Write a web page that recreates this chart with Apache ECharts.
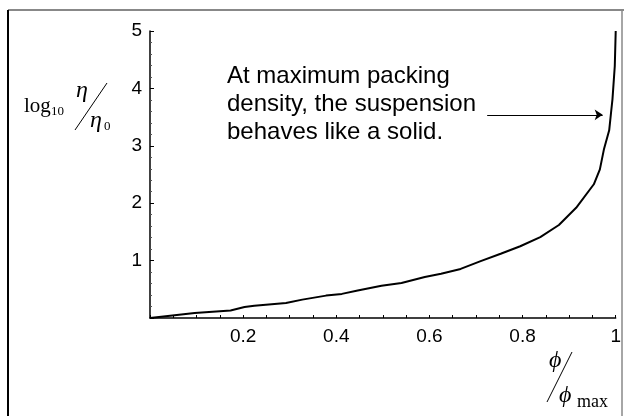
<!DOCTYPE html>
<html>
<head>
<meta charset="utf-8">
<script src="https://cdn.jsdelivr.net/npm/echarts@6/dist/echarts.min.js"></script>
<style>
  html, body { margin: 0; padding: 0; background: #fff; }
  #chart { width: 624px; height: 416px; }
</style>
</head>
<body>
<div id="chart"></div>
<script>
// Relative packing fraction phi/phi_max
const packingFraction = [
  0, 0.096, 0.173, 0.203, 0.224, 0.292, 0.327, 0.378, 0.412, 0.446,
  0.497, 0.54, 0.59, 0.625, 0.667, 0.71, 0.753, 0.795, 0.838, 0.878,
  0.915, 0.953, 0.966, 0.975, 0.986, 0.99, 0.993, 0.998, 1.0
];
// log10 of relative viscosity eta/eta_0
const logViscosity = [
  0, 0.087, 0.13, 0.19, 0.215, 0.26, 0.32, 0.39, 0.42, 0.48,
  0.56, 0.61, 0.715, 0.77, 0.855, 0.99, 1.12, 1.25, 1.41, 1.62,
  1.92, 2.33, 2.59, 2.95, 3.27, 3.58, 3.81, 4.39, 5.0
];
// Arrow pointing at the near-vertical part of the curve: [x, y] start and end
const arrowStart = [0.724, 3.54];
const arrowEnd = [0.972, 3.54];
const noteLines = [
  'At maximum packing',
  'density, the suspension',
  'behaves like a solid.'
];

const curve = packingFraction.map((x, i) => [x, logViscosity[i]]);

const sans = '"Liberation Sans", Arial, sans-serif';
const serif = '"Liberation Serif", "Times New Roman", serif';
const PHI = '\u03D5';
const ETA = '\u03B7';

const chart = echarts.init(document.getElementById('chart'), null, { renderer: 'canvas' });

chart.setOption({
  animation: false,
  backgroundColor: '#fff',
  grid: { left: 150, right: 7, top: 31, bottom: 98 },
  xAxis: {
    type: 'value',
    min: 0, max: 1, interval: 0.2,
    splitLine: { show: false },
    axisLine: { show: true, lineStyle: { color: '#000', width: 1.5 } },
    axisTick: { show: true, inside: true, length: 3, lineStyle: { color: '#000', width: 1 } },
    minorTick: { show: true, splitNumber: 4, length: 3, lineStyle: { color: '#000', width: 1 } },
    axisLabel: {
      color: '#000', fontFamily: sans, fontSize: 19, margin: 9,
      formatter: v => (v === 0 ? '' : String(Math.round(v * 10) / 10))
    }
  },
  yAxis: {
    type: 'value',
    min: 0, max: 5, interval: 1,
    splitLine: { show: false },
    axisLine: { show: true, lineStyle: { color: '#000', width: 1.5 } },
    axisTick: { show: true, inside: true, length: 4, lineStyle: { color: '#000', width: 1 } },
    minorTick: { show: true, splitNumber: 5, length: 2, lineStyle: { color: '#555', width: 1 } },
    axisLabel: {
      color: '#000', fontFamily: sans, fontSize: 19, margin: 8,
      formatter: v => (v === 0 ? '' : String(v))
    }
  },
  series: [{
    type: 'line',
    data: curve,
    showSymbol: false,
    smooth: false,
    lineStyle: { color: '#000', width: 2 },
    markLine: {
      silent: true,
      symbol: ['none', 'arrow'],
      symbolSize: 8,
      label: { show: false },
      lineStyle: { color: '#000', width: 1, type: 'solid' },
      data: [[{ coord: arrowStart }, { coord: arrowEnd }]]
    }
  }],
  graphic: [
    // page frame
    { type: 'line', shape: { x1: 8, y1: 10, x2: 624, y2: 10 }, style: { stroke: '#888', lineWidth: 2 } },
    { type: 'line', shape: { x1: 8, y1: 10, x2: 8, y2: 416 }, style: { stroke: '#000', lineWidth: 2 } },
    { type: 'line', shape: { x1: 622, y1: 10, x2: 622, y2: 416 }, style: { stroke: '#888', lineWidth: 1.5 } },
    // annotation
    {
      type: 'text', x: 227, y: 62,
      style: {
        text: noteLines.join('\n'), fill: '#000',
        fontFamily: sans, fontSize: 24, lineHeight: 28,
        verticalAlign: 'top', align: 'left'
      }
    },
    // y axis title: log10 eta/eta0
    { type: 'text', x: 24, y: 106, style: { text: 'log', fill: '#000', fontFamily: serif, fontSize: 21, verticalAlign: 'middle' } },
    { type: 'text', x: 51, y: 112, style: { text: '10', fill: '#000', fontFamily: serif, fontSize: 13, verticalAlign: 'middle' } },
    { type: 'text', x: 76, y: 91, style: { text: ETA, fill: '#000', fontFamily: serif, fontStyle: 'italic', fontSize: 24, verticalAlign: 'middle' } },
    { type: 'line', shape: { x1: 107, y1: 83, x2: 75, y2: 130 }, style: { stroke: '#000', lineWidth: 1 } },
    { type: 'text', x: 90, y: 121, style: { text: ETA, fill: '#000', fontFamily: serif, fontStyle: 'italic', fontSize: 24, verticalAlign: 'middle' } },
    { type: 'text', x: 104, y: 127, style: { text: '0', fill: '#000', fontFamily: serif, fontSize: 13, verticalAlign: 'middle' } },
    // x axis title: phi/phi_max
    { type: 'text', x: 549, y: 361, style: { text: PHI, fill: '#000', fontFamily: serif, fontStyle: 'italic', fontSize: 24, verticalAlign: 'middle' } },
    { type: 'line', shape: { x1: 572, y1: 352, x2: 547, y2: 402 }, style: { stroke: '#000', lineWidth: 1 } },
    { type: 'text', x: 559, y: 396, style: { text: PHI, fill: '#000', fontFamily: serif, fontStyle: 'italic', fontSize: 24, verticalAlign: 'middle' } },
    { type: 'text', x: 577, y: 402, style: { text: 'max', fill: '#000', fontFamily: serif, fontSize: 18, verticalAlign: 'middle' } }
  ]
});
</script>
</body>
</html>
